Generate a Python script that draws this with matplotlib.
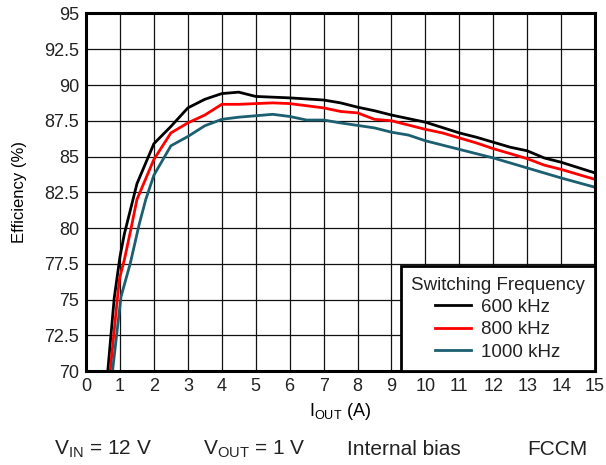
import matplotlib
matplotlib.use('Agg')
import matplotlib.pyplot as plt

plt.rcParams['font.family'] = ['Liberation Sans', 'DejaVu Sans']

# output current (A) and efficiency (%) per switching frequency
iout_600 = [0.55, 0.64, 0.83, 1.0, 1.13, 1.5, 2.0, 2.5, 3.0, 3.5, 4.0, 4.5, 5.0, 6.0, 7.0, 7.5,
            8.0, 8.5, 9.0, 10.0, 11.0, 11.5, 12.0, 12.5, 13.0, 13.5, 14.0, 15.0]
eff_600 = [67.5, 70.0, 75.1, 78.0, 79.6, 83.1, 85.9, 87.1, 88.4, 89.0, 89.4, 89.5, 89.2, 89.1, 88.95,
           88.75, 88.45, 88.2, 87.9, 87.4, 86.65, 86.35, 86.0, 85.65, 85.4, 84.9, 84.6, 83.85]

iout_800 = [0.62, 0.71, 0.98, 1.13, 1.32, 1.5, 2.0, 2.5, 3.0, 3.5, 4.0, 4.5, 5.0, 5.5, 6.0, 7.0,
            7.5, 8.0, 8.5, 9.0, 10.0, 10.5, 11.0, 11.5, 12.0, 13.0, 13.5, 14.0, 15.0]
eff_800 = [67.5, 70.0, 76.4, 77.8, 79.9, 82.0, 84.8, 86.65, 87.35, 87.9, 88.65, 88.65, 88.7, 88.75, 88.7,
           88.4, 88.15, 88.05, 87.6, 87.5, 86.9, 86.65, 86.3, 85.95, 85.55, 84.85, 84.4, 84.1, 83.4]

iout_1000 = [0.7, 0.78, 1.03, 1.3, 1.57, 1.76, 2.0, 2.5, 3.0, 3.5, 4.0, 4.5, 5.0, 5.5, 6.0, 6.5,
             7.0, 7.5, 8.5, 9.0, 9.5, 10.0, 11.0, 12.0, 13.0, 14.0, 15.0]
eff_1000 = [67.5, 70.0, 75.2, 77.5, 80.3, 82.0, 83.7, 85.75, 86.4, 87.15, 87.6, 87.75, 87.85, 87.95, 87.8, 87.55,
            87.55, 87.35, 87.0, 86.7, 86.5, 86.1, 85.5, 84.9, 84.2, 83.5, 82.85]

x_ticks = list(range(0, 16))
y_ticks = [70, 72.5, 75, 77.5, 80, 82.5, 85, 87.5, 90, 92.5, 95]

fig = plt.figure(figsize=(6.06, 4.65), dpi=100)
ax = fig.add_axes([0.142, 0.202, 0.840, 0.769])

ax.plot(iout_600, eff_600, color='black', lw=2.0, label='600 kHz')
ax.plot(iout_800, eff_800, color='#ff0000', lw=2.0, label='800 kHz')
ax.plot(iout_1000, eff_1000, color='#1b5f70', lw=2.0, label='1000 kHz')

ax.set_xlim(0, 15)
ax.set_ylim(70, 95)
ax.set_xticks(x_ticks)
ax.set_xticklabels([str(t) for t in x_ticks])
ax.set_yticks(y_ticks)
ax.set_yticklabels(['%g' % t for t in y_ticks])
ax.tick_params(length=0, labelsize=13, pad=5, colors='#222222')
ax.grid(True, color='#111111', lw=0.9)
for s in ax.spines.values():
    s.set_linewidth(2.2)
    s.set_color('black')

ax.set_xlabel(r'I$_{\mathregular{OUT}}$ (A)', fontsize=13, labelpad=4)
ax.set_ylabel('Efficiency (%)', fontsize=12, labelpad=12)

leg = ax.legend(title='Switching Frequency', loc='lower right', fontsize=13.5, title_fontsize=13.5,
                frameon=True, fancybox=False, framealpha=1, edgecolor='black', borderaxespad=0,
                handlelength=1.9, handletextpad=0.55, labelspacing=0.28, borderpad=0.55)
leg.get_frame().set_linewidth(2.0)
leg.get_title().set_color('#222222')
for t in leg.get_texts():
    t.set_color('#222222')

foot = [(0.17, r'V$_{\mathregular{IN}}$ = 12 V'), (0.42, r'V$_{\mathregular{OUT}}$ = 1 V'),
        (0.667, 'Internal bias'), (0.92, 'FCCM')]
for fx, txt in foot:
    fig.text(fx, 0.033, txt, ha='center', va='center', fontsize=15, color='#222222')

fig.savefig('out.png', dpi=100)
